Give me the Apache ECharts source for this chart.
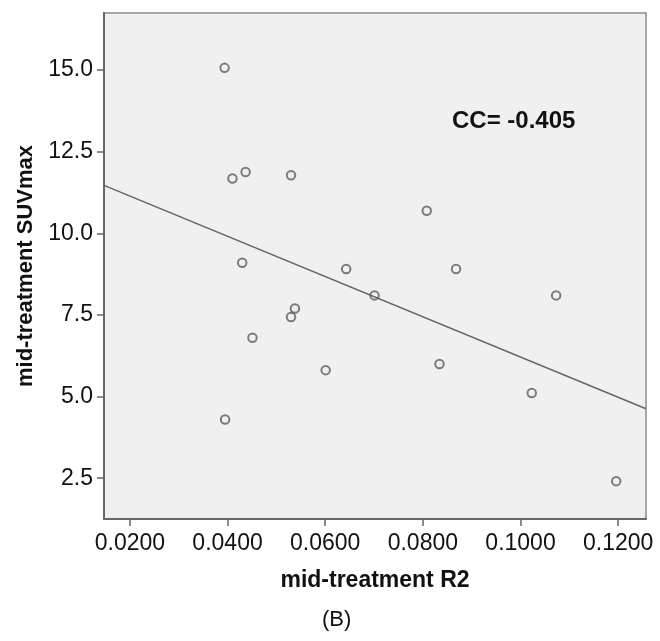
<!DOCTYPE html>
<html>
<head>
<meta charset="utf-8">
<script src="https://cdn.jsdelivr.net/npm/echarts@6/dist/echarts.min.js"></script>
<style>
html,body{margin:0;padding:0;background:#fff;}
#chart{width:660px;height:641px;}
</style>
</head>
<body>
<div id="chart"></div>
<script>
// Data
const r2Values = [0.0394, 0.0410, 0.0437, 0.0530, 0.0430, 0.0538, 0.0530, 0.0451, 0.0601, 0.0395,
                  0.0808, 0.0643, 0.0868, 0.0701, 0.1073, 0.0834, 0.1023, 0.1196];
const suvValues = [15.07, 11.68, 11.88, 11.78, 9.10, 7.70, 7.44, 6.80, 5.81, 4.30,
                   10.69, 8.91, 8.91, 8.10, 8.10, 6.00, 5.11, 2.41];
const fitLineX = [0.0147, 0.1257];
const fitLineY = [11.47, 4.63];
const xTicks = [0.02, 0.04, 0.06, 0.08, 0.10, 0.12];
const yTicks = [2.5, 5.0, 7.5, 10.0, 12.5, 15.0];
const xRange = [0.0147, 0.1257];
const yRange = [1.25, 16.75];
const ccLabel = 'CC= -0.405';
const panelLabel = '(B)';
const xTitle = 'mid-treatment R2';
const yTitle = 'mid-treatment SUVmax';

const points = r2Values.map((x, i) => [x, suvValues[i]]);
const fitPoints = fitLineX.map((x, i) => [x, fitLineY[i]]);

const chart = echarts.init(document.getElementById('chart'), null, {renderer: 'canvas'});
const font = 'Liberation Sans, Arial, sans-serif';
chart.setOption({
  animation: false,
  backgroundColor: '#ffffff',
  grid: {
    left: 104, top: 13, right: 14, bottom: 122,
    show: true, backgroundColor: '#f0f0f0', borderColor: '#8a8a8a', borderWidth: 1.5
  },
  xAxis: {
    type: 'value', min: xRange[0], max: xRange[1],
    name: xTitle, nameLocation: 'middle', nameGap: 50,
    nameTextStyle: {fontFamily: font, fontWeight: 'bold', fontSize: 23, color: '#111'},
    axisLine: {show: true, onZero: false, lineStyle: {color: '#666', width: 2}},
    axisTick: {show: true, length: 7, lineStyle: {color: '#666', width: 1.5}, customValues: xTicks},
    axisLabel: {fontFamily: font, fontSize: 23, color: '#111', margin: 13,
      customValues: xTicks, formatter: v => v.toFixed(4)},
    splitLine: {show: false}
  },
  yAxis: {
    type: 'value', min: yRange[0], max: yRange[1],
    name: yTitle, nameLocation: 'middle', nameGap: 64,
    nameTextStyle: {fontFamily: font, fontWeight: 'bold', fontSize: 22, color: '#111'},
    axisLine: {show: true, onZero: false, lineStyle: {color: '#666', width: 2}},
    axisTick: {show: true, length: 7, lineStyle: {color: '#666', width: 1.5}, customValues: yTicks},
    axisLabel: {fontFamily: font, fontSize: 23, color: '#111', margin: 11,
      customValues: yTicks, formatter: v => v.toFixed(1)},
    splitLine: {show: false}
  },
  series: [
    {
      type: 'line', data: fitPoints, showSymbol: false, symbol: 'none',
      lineStyle: {color: '#666', width: 1.6}, silent: true, z: 2
    },
    {
      type: 'scatter', data: points, symbol: 'circle', symbolSize: 8.5,
      itemStyle: {color: 'rgba(0,0,0,0)', borderColor: '#5e5e5e', borderWidth: 2}, z: 3
    }
  ],
  graphic: [
    {type: 'text', left: 452, top: 109, style: {text: ccLabel, fontFamily: font, fontWeight: 'bold', fontSize: 24, fill: '#111'}},
    {type: 'text', left: 322, top: 609, style: {text: panelLabel, fontFamily: font, fontSize: 22, fill: '#111'}}
  ]
});
</script>
</body>
</html>
